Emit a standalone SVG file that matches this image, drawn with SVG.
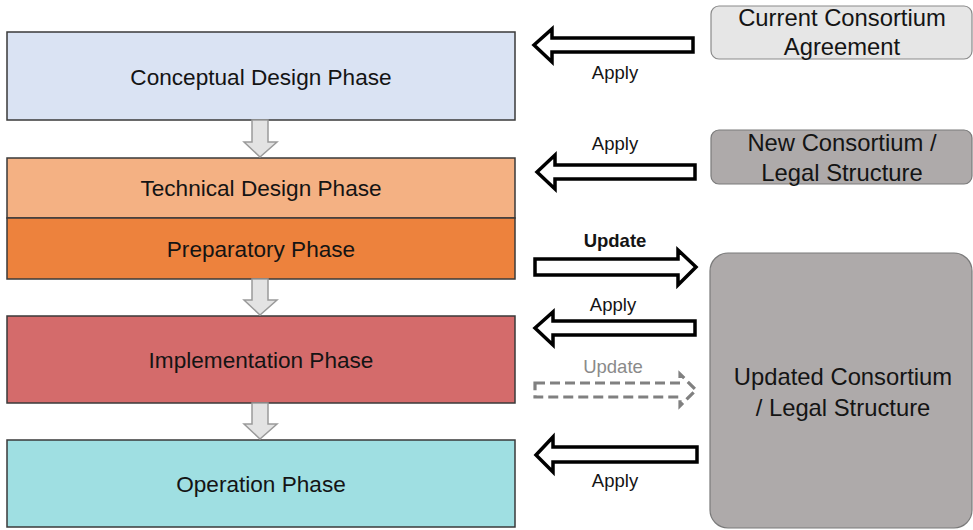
<svg xmlns="http://www.w3.org/2000/svg" width="973" height="530" viewBox="0 0 973 530">
<style>
.phase{stroke:#3a3a3a;stroke-width:1.5}
.t{font-family:"Liberation Sans",Arial,sans-serif;fill:#141414;text-anchor:middle}
.pt{font-size:22.6px}
.rt{font-size:23.8px}
.lbl{font-size:18.5px}
.down{fill:#e3e3e3;stroke:#9a9a9a;stroke-width:1.5}
.blk{fill:#ffffff;stroke:#000000;stroke-width:3.5;stroke-linejoin:miter}
.dash{fill:#ffffff;stroke:#808080;stroke-width:3.2;stroke-dasharray:10 5}
</style>
<rect width="973" height="530" fill="#ffffff"/>
<g id="conceptual">
<rect class="phase" x="7" y="32" width="508" height="88" fill="#dae3f3"/>
<text class="t pt" x="261" y="85">Conceptual Design Phase</text>
</g>
<g id="technical">
<rect class="phase" x="7" y="158" width="508" height="60" fill="#f4b183"/>
<text class="t pt" x="261" y="196">Technical Design Phase</text>
</g>
<g id="preparatory">
<rect class="phase" x="7" y="218" width="508" height="61" fill="#ed823d"/>
<text class="t pt" x="261" y="257">Preparatory Phase</text>
</g>
<g id="implementation">
<rect class="phase" x="7" y="316" width="508" height="87" fill="#d46b6b"/>
<text class="t pt" x="261" y="368">Implementation Phase</text>
</g>
<g id="operation">
<rect class="phase" x="7" y="440" width="508" height="87" fill="#9fdfe2"/>
<text class="t pt" x="261" y="492">Operation Phase</text>
</g>
<g id="current">
<rect x="711" y="6" width="261" height="53" rx="8" fill="#e6e6e6" stroke="#8a8a8a" stroke-width="1.2"/>
<text class="t rt" x="842" y="26">Current Consortium</text>
<text class="t rt" x="842" y="55">Agreement</text>
</g>
<g id="new">
<rect x="711" y="130" width="261" height="54" rx="8" fill="#aeaaaa" stroke="#7a7a7a" stroke-width="1.2"/>
<text class="t rt" x="842" y="151">New Consortium /</text>
<text class="t rt" x="842" y="181">Legal Structure</text>
</g>
<g id="updated">
<rect x="710" y="253" width="262" height="275" rx="18" fill="#aeaaaa" stroke="#7a7a7a" stroke-width="1.2"/>
<text class="t rt" x="843" y="385">Updated Consortium</text>
<text class="t rt" x="843" y="416">/ Legal Structure</text>
</g>
<g id="connectors">
<path class="down" d="M252,120 L268,120 L268,142 L277,142 L260,157 L244,142 L252,142 Z"/>
<path class="down" d="M252,279 L268,279 L268,300 L277,300 L260,315 L244,300 L252,300 Z"/>
<path class="down" d="M252,403 L268,403 L268,424 L277,424 L260,439 L244,424 L252,424 Z"/>
<path class="blk" d="M534,45 L552,29 L552,38 L693,38 L693,52 L552,52 L552,62 Z"/>
<text class="t lbl" x="615" y="79">Apply</text>
<path class="blk" d="M537,172 L555,155 L555,165 L695,165 L695,179 L555,179 L555,189 Z"/>
<text class="t lbl" x="615" y="150">Apply</text>
<path class="blk" d="M535,259 L678,259 L678,250 L696,267 L678,285 L678,275 L535,275 Z"/>
<text class="t lbl" x="615" y="247" font-weight="bold">Update</text>
<path class="blk" d="M535,328 L553,312 L553,321 L695,321 L695,335 L553,335 L553,345 Z"/>
<text class="t lbl" x="613" y="311">Apply</text>
<path class="dash" d="M535,383 L680,383 L680,374 L696,390 L680,406 L680,397 L535,397 Z"/>
<text class="t lbl" x="613" y="373" style="fill:#8a8a8a">Update</text>
<path class="blk" d="M536,455 L553,437 L553,447 L697,447 L697,462 L553,462 L553,472 Z"/>
<text class="t lbl" x="615" y="487">Apply</text>
</g>
</svg>
